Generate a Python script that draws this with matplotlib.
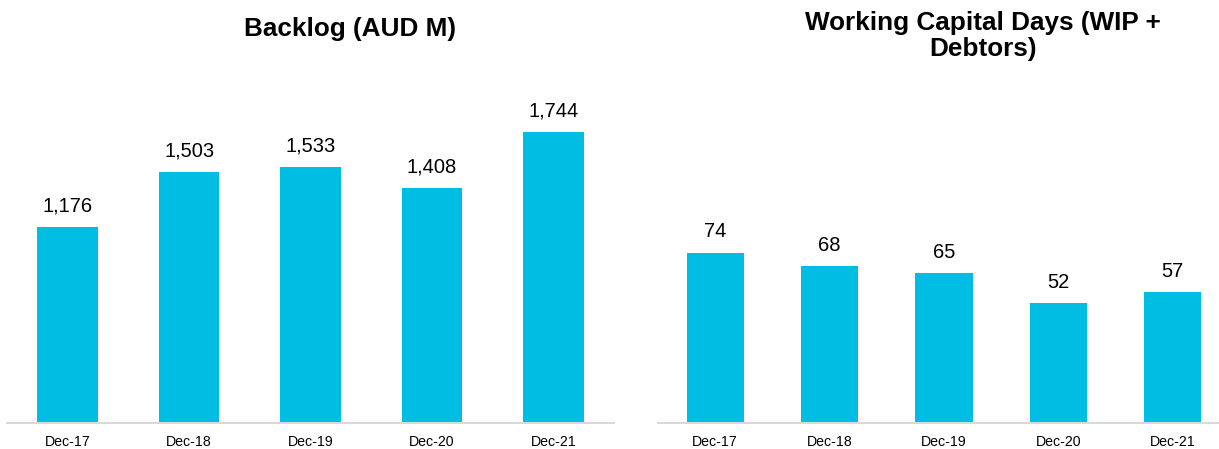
import matplotlib.pyplot as plt

plt.rcParams['font.family'] = ['Liberation Sans', 'DejaVu Sans']

periods = ['Dec-17', 'Dec-18', 'Dec-19', 'Dec-20', 'Dec-21']
backlog = [1176, 1503, 1533, 1408, 1744]
wc_days = [74, 68, 65, 52, 57]

bar_col = '#00BDE3'
W, H = 1219, 449

fig = plt.figure(figsize=(W / 100, H / 100), dpi=100)

# axes placed in pixel terms: left, right, top (baseline at y=423)
def mkax(x0, x1, top=80, base=423):
    return fig.add_axes([x0 / W, 1 - base / H, (x1 - x0) / W, (base - top) / H])

ax1 = mkax(7, 614)
ax2 = mkax(658, 1230)

def draw(ax, vals, ymax, fmt):
    x = range(len(vals))
    ax.bar(x, vals, width=0.5, color=bar_col)
    ax.set_xlim(-0.5, len(vals) - 0.5)
    ax.set_ylim(0, ymax)
    for i, v in enumerate(vals):
        ax.annotate(fmt(v), (i, v), xytext=(0, 11), textcoords='offset points',
                    ha='center', va='baseline', fontsize=14.5, color='#000000')
    ax.set_xticks(list(x))
    ax.set_xticklabels(periods, fontsize=10.2)
    ax.tick_params(axis='x', length=0, pad=9)
    ax.set_yticks([])
    for s in ['top', 'right', 'left']:
        ax.spines[s].set_visible(False)
    ax.spines['bottom'].set_color('#D9D9D9')
    ax.spines['bottom'].set_linewidth(1.5)

draw(ax1, backlog, 2055, lambda v: f'{v:,}')
draw(ax2, wc_days, 149, lambda v: f'{v}')

fig.text(350 / W, 1 - 29 / H, 'Backlog (AUD M)', ha='center', va='center',
         fontsize=18.8, fontweight='bold')
fig.text(983 / W, 1 - 36 / H, 'Working Capital Days (WIP +\nDebtors)', ha='center',
         va='center', fontsize=18.8, fontweight='bold', linespacing=1.08)

fig.savefig('out.png', dpi=100)
